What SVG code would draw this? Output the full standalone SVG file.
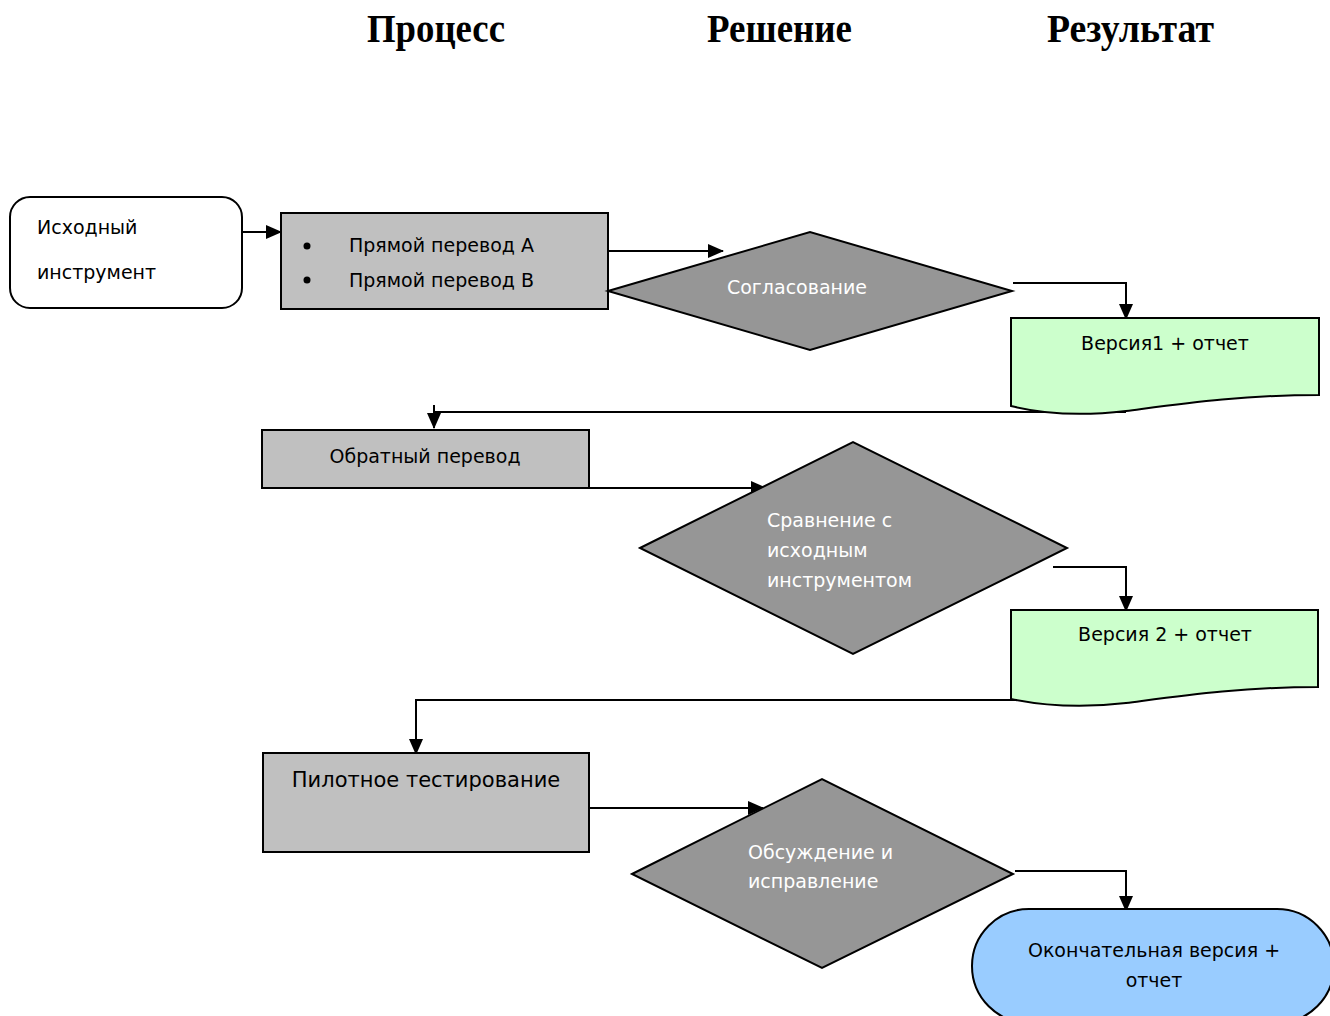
<svg xmlns="http://www.w3.org/2000/svg" width="1330" height="1016" viewBox="0 0 1330 1016">
<defs>
<marker id="ah" markerUnits="userSpaceOnUse" markerWidth="16" markerHeight="14" refX="15" refY="7" orient="auto">
<path d="M0,0 L16,7 L0,14 Z" fill="#000"/>
</marker>
<style>
.title{font-family:"Liberation Serif",serif;font-weight:bold;font-size:40px;fill:#000}
.t{font-family:"DejaVu Sans","Noto Sans",sans-serif;font-size:19px;fill:#000}
.w{font-family:"DejaVu Sans","Noto Sans",sans-serif;font-size:19px;fill:#fff}
.box{fill:#c0c0c0;stroke:#000;stroke-width:2}
.dia{fill:#969696;stroke:#000;stroke-width:2}
.doc{fill:#ccffcc;stroke:#000;stroke-width:2}
.c{fill:none;stroke:#000;stroke-width:2}
</style>
</defs>
<rect width="1330" height="1016" fill="#fff"/>
<g id="titles">
<text class="title" x="367" y="42" textLength="138" lengthAdjust="spacingAndGlyphs">Процесс</text>
<text class="title" x="707" y="42" textLength="145" lengthAdjust="spacingAndGlyphs">Решение</text>
<text class="title" x="1047" y="42" textLength="167" lengthAdjust="spacingAndGlyphs">Результат</text>
</g>
<g id="connectors">
<path class="c" d="M242,232 H281" marker-end="url(#ah)"/>
<path class="c" d="M608,251 H723" marker-end="url(#ah)"/>
<path class="c" d="M1013,283 H1126 V319" marker-end="url(#ah)"/>
<path class="c" d="M1126,393 V406"/>
<path class="c" d="M1126,412 H434"/>
<path class="c" d="M434,405 V428" marker-end="url(#ah)"/>
<path class="c" d="M589,488 H766" marker-end="url(#ah)"/>
<path class="c" d="M1053,567 H1126 V611" marker-end="url(#ah)"/>
<path class="c" d="M1126,700 H416 V754" marker-end="url(#ah)"/>
<path class="c" d="M589,808 H763" marker-end="url(#ah)"/>
<path class="c" d="M1015,871 H1126 V911" marker-end="url(#ah)"/>
</g>
<g id="n-source">
<rect x="10" y="197" width="232" height="111" rx="20" fill="#fff" stroke="#000" stroke-width="2"/>
<text class="t" x="37" y="234">Исходный</text>
<text class="t" x="37" y="279">инструмент</text>
</g>
<g id="n-forward">
<rect class="box" x="281" y="213" width="327" height="96"/>
<circle cx="307" cy="246" r="3.5" fill="#000"/>
<circle cx="307" cy="280" r="3.5" fill="#000"/>
<text class="t" x="349" y="252">Прямой перевод А</text>
<text class="t" x="349" y="287">Прямой перевод В</text>
</g>
<g id="n-agree">
<polygon class="dia" points="608,291 810,232 1012,291 810,350"/>
<text class="w" x="797" y="294" text-anchor="middle">Согласование</text>
</g>
<g id="n-v1">
<path class="doc" d="M1011,318 H1319 V395 C1240,395 1180,404 1126,411 C1075,417 1035,412 1011,406 Z"/>
<text class="t" x="1165" y="350" text-anchor="middle">Версия1 + отчет</text>
</g>
<g id="n-back">
<rect class="box" x="262" y="430" width="327" height="58"/>
<text class="t" x="425" y="463" text-anchor="middle">Обратный перевод</text>
</g>
<g id="n-compare">
<polygon class="dia" points="640,548 853,442 1067,548 853,654"/>
<text class="w" x="767" y="527">Сравнение с</text>
<text class="w" x="767" y="557">исходным</text>
<text class="w" x="767" y="587">инструментом</text>
</g>
<g id="n-v2">
<path class="doc" d="M1011,610 H1318 V687 C1240,687 1180,696 1126,703 C1075,709 1035,704 1011,699 Z"/>
<text class="t" x="1165" y="641" text-anchor="middle">Версия 2 + отчет</text>
</g>
<g id="n-pilot">
<rect class="box" x="263" y="753" width="326" height="99"/>
<text class="t" x="426" y="787" text-anchor="middle" style="font-size:21px">Пилотное тестирование</text>
</g>
<g id="n-discuss">
<polygon class="dia" points="632,874 822,779 1013,874 822,968"/>
<text class="w" x="748" y="859">Обсуждение и</text>
<text class="w" x="748" y="888">исправление</text>
</g>
<g id="n-final">
<rect x="972" y="909" width="362" height="114" rx="57" fill="#99ccff" stroke="#000" stroke-width="2"/>
<text class="t" x="1154" y="957" text-anchor="middle">Окончательная версия +</text>
<text class="t" x="1154" y="987" text-anchor="middle">отчет</text>
</g>
</svg>
